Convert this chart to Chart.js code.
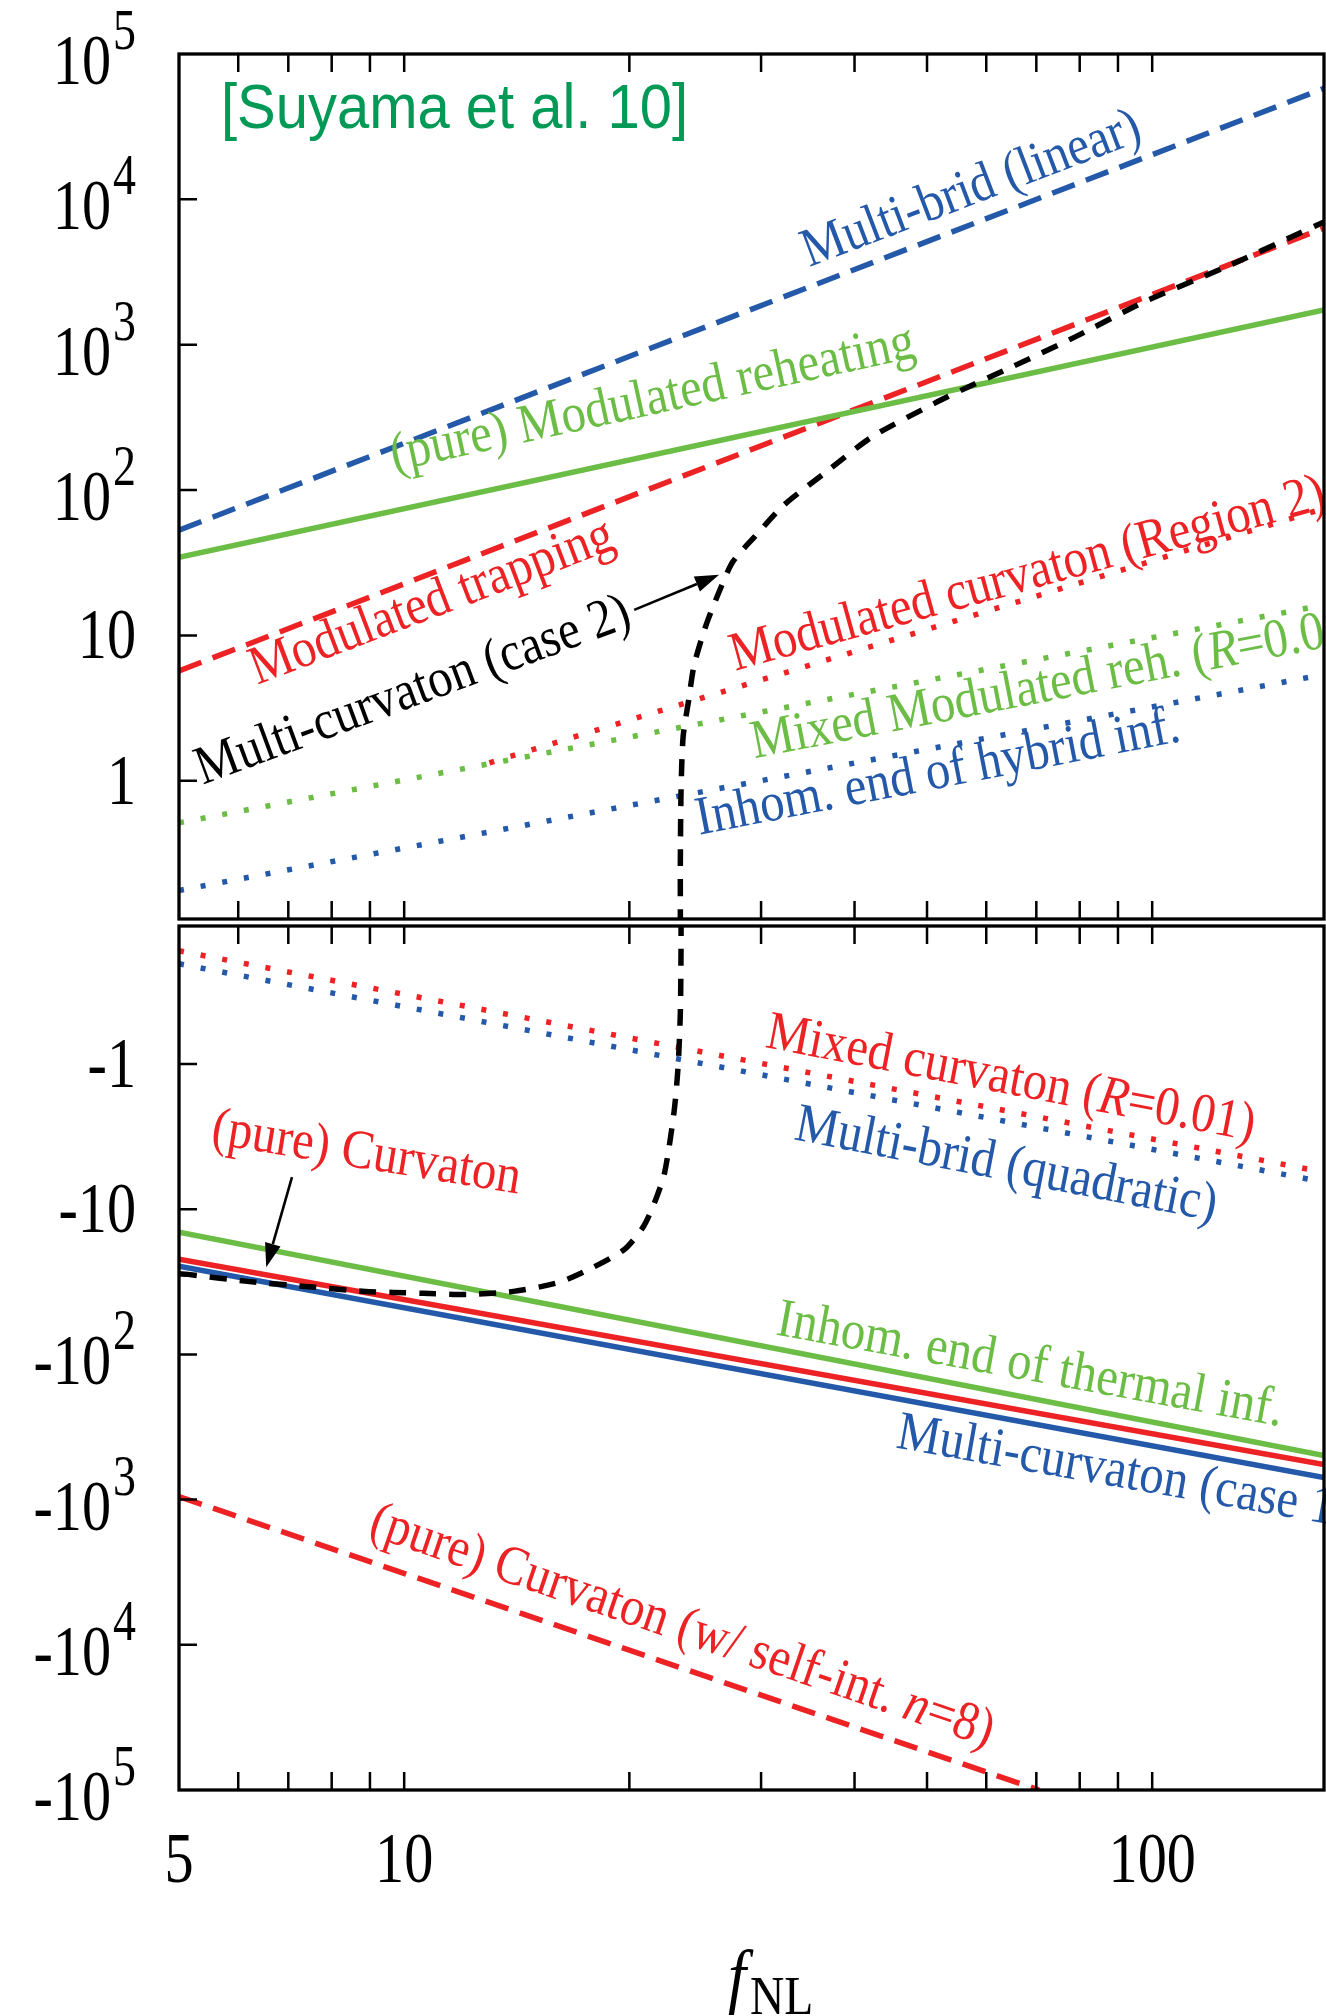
<!DOCTYPE html>
<html>
<head>
<meta charset="utf-8">
<title>tau_NL vs f_NL</title>
<script src="https://cdn.jsdelivr.net/npm/chart.js"></script>
<style>
  html, body { margin: 0; padding: 0; background: #fff; }
  #wrap { position: relative; width: 1326px; height: 2016px; overflow: hidden; }
  #topChart { position: absolute; left: 0; top: 0; }
  #bottomChart { position: absolute; left: 0; top: 922px; }
</style>
</head>
<body>
<div id="wrap">
  <canvas id="topChart" width="1326" height="923"></canvas>
  <canvas id="bottomChart" width="1326" height="1094"></canvas>
</div>
<script>
// --- Axis ranges and ticks ---

const X_MIN = 5;
const X_MAX = 169.7;
const Y_MIN = 0.112; // |tau_NL| where the two panels meet
const Y_MAX = 1e5;

const xTicks = [6, 7, 8, 9, 10, 20, 30, 40, 50, 60, 70, 80, 90, 100];
const xTickLabels = ["5", "10", "100"];
const xTickLabelValues = [5, 10, 100];

const yTopTicks = [1e5, 1e4, 1e3, 100, 10, 1];
const yTopTickLabels = ["10^5", "10^4", "10^3", "10^2", "10", "1"];
const yBottomTicks = [-1, -10, -100, -1e3, -1e4, -1e5];
const yBottomTickLabels = ["-1", "-10", "-10^2", "-10^3", "-10^4", "-10^5"];

// --- Upper panel (tau_NL > 0) ---

const multibridLinearX = [5, 169.7];
const multibridLinearY = [53, 58000];

const modReheatingX = [5, 169.7];
const modReheatingY = [34.5, 1735];

const modTrappingX = [5, 169.7];
const modTrappingY = [5.7, 6350];

const modCurvatonX = [13.0, 169.7];
const modCurvatonY = [1.33, 74.7];

const mixedModRehX = [5, 169.7];
const mixedModRehY = [0.514, 16.2];

const hybridEndX = [5, 169.7];
const hybridEndY = [0.176, 5.39];

const multiCurv2TopX = [23.4, 23.4, 23.45, 23.6, 24.0, 24.4, 25.3, 26.4, 27.5, 29.4, 32.2, 36.5, 42.2, 51.3, 55.7, 64.9, 78.9, 96.9, 125.5, 157.6, 169.7];
const multiCurv2TopY = [0.1, 0.277, 0.85, 2.01, 3.55, 6.18, 11.6, 20.3, 32.1, 47.6, 79, 131, 232, 398, 489, 703, 1132, 1938, 3430, 5870, 6990];

// --- Lower panel (tau_NL < 0) ---

const mixedCurvatonX = [5, 169.7];
const mixedCurvatonY = [-0.166, -5.56];

const multibridQuadX = [5, 169.7];
const multibridQuadY = [-0.204, -6.5];

const thermalEndX = [5, 169.7];
const thermalEndY = [-14.4, -497];

const pureCurvatonX = [5, 169.7];
const pureCurvatonY = [-22.1, -574];

const multiCurv1X = [5, 169.7];
const multiCurv1Y = [-24.7, -705];

const selfIntX = [5, 70.6];
const selfIntY = [-953, -1e5];

const multiCurv2BottomX = [23.45, 23.45, 23.4, 23.24, 22.95, 22.3, 21.7, 20.9, 19.7, 17.9, 16.1, 14.0, 12.2, 10.6, 9.66, 8.87, 7.37, 6.17, 5.14, 5];
const multiCurv2BottomY = [-0.1, -0.153, -0.44, -1.03, -2.14, -5.56, -8.53, -13.1, -18.9, -25.1, -31.9, -36.8, -38.6, -37.9, -37.4, -36.8, -34.0, -31.4, -28.1, -27.8];

// --- Styles ---

const BLUE = "#2459a9";
const RED = "#ed2224";
const GREEN = "#6cbd45";
const BLACK = "#000000";
const TITLE_GREEN = "#009955";

const SERIF = "'Liberation Serif', 'Times New Roman', serif";
const TICK_FONT = "71px " + SERIF;
const SUP_FONT = "56px " + SERIF;
const TICK_SQUEEZE = 0.82; // the original glyphs are a bit narrow
const LABEL_SIZE = 55;
const LABEL_SQUEEZE = 0.885;
const TICK_LEN = 18;

const STYLES = {
  solid: { width: 5.5, dash: [] },
  dashed: { width: 5.5, dash: [24, 12] },
  dotted: { width: 5.5, dash: [5, 17] },
  blackDashed: { width: 5.5, dash: [17, 13] },
};

// Curve labels: anchor is the left end of the baseline, in data coordinates.
// Text between * is italic.
const topLabels = [
  { text: "Multi-brid (linear)", x: 34.8, y: 3428, angle: -20.8, color: BLUE },
  { text: "(pure) Modulated reheating", x: 9.7, y: 135.5, angle: -12.3, color: GREEN },
  { text: "Modulated trapping", x: 6.36, y: 4.57, angle: -20.8, color: RED },
  { text: "Multi-curvaton (case 2)", x: 5.38, y: 0.939, angle: -20.3, color: BLACK },
  { text: "Modulated curvaton (Region 2)", x: 27.7, y: 5.71, angle: -15.4, color: RED },
  { text: "Mixed Modulated reh. (*R*=0.01)", x: 29.4, y: 1.43, angle: -11, color: GREEN },
  { text: "Inhom. end of hybrid inf.", x: 24.8, y: 0.425, angle: -11, color: BLUE },
];

const bottomLabels = [
  { text: "Mixed curvaton (*R*=0.01)", x: 30.3, y: -0.763, angle: 10.9, color: RED },
  { text: "Multi-brid (quadratic)", x: 33.1, y: -3.29, angle: 11, color: BLUE },
  { text: "(pure) Curvaton", x: 5.5, y: -3.51, angle: 9.3, color: RED },
  { text: "Inhom. end of thermal inf.", x: 31.3, y: -72.8, angle: 10.3, color: GREEN },
  { text: "Multi-curvaton (case 1)", x: 45.3, y: -438, angle: 10, color: BLUE },
  { text: "(pure) Curvaton (w/ self-int. *n*=8)", x: 8.92, y: -1742, angle: 18.9, color: RED },
];

const topArrows = [{ from: [20.3, 15.0], to: [26.36, 26.1] }];
const bottomArrows = [{ from: [7.08, -6.0], to: [6.54, -25.1] }];

// --- Helpers ---

function series(xs, ys, color, style, tension) {
  const s = STYLES[style];
  return {
    data: xs.map((x, i) => ({ x: x, y: Math.abs(ys[i]) })),
    borderColor: color,
    borderWidth: s.width,
    borderDash: s.dash,
    borderCapStyle: "butt",
    borderJoinStyle: "round",
    pointRadius: 0,
    fill: false,
    tension: tension || 0,
  };
}

// draws text horizontally squeezed, left end of baseline at (x, y)
function squeezedText(ctx, text, x, y, squeeze) {
  ctx.save();
  ctx.translate(x, y);
  ctx.scale(squeeze, 1);
  ctx.fillText(text, 0, 0);
  ctx.restore();
  return ctx.measureText(text).width * squeeze;
}

function drawRichText(ctx, text) {
  let cx = 0;
  text.split("*").forEach((part, i) => {
    if (!part) return;
    ctx.font = (i % 2 ? "italic " : "") + LABEL_SIZE + "px " + SERIF;
    cx += squeezedText(ctx, part, cx, 0, LABEL_SQUEEZE);
  });
}

function drawPowerLabel(ctx, text, xRight, yTick) {
  const parts = text.split("^");
  ctx.fillStyle = "#000";
  ctx.textAlign = "left";
  ctx.textBaseline = "alphabetic";
  if (parts.length === 2) {
    ctx.font = SUP_FONT;
    const wSup = ctx.measureText(parts[1]).width * TICK_SQUEEZE;
    ctx.font = TICK_FONT;
    const wBase = ctx.measureText(parts[0]).width * TICK_SQUEEZE;
    const baseY = yTick + 30;
    squeezedText(ctx, parts[0], xRight - wSup - wBase - 2, baseY, TICK_SQUEEZE);
    ctx.font = SUP_FONT;
    squeezedText(ctx, parts[1], xRight - wSup, baseY - 35, TICK_SQUEEZE);
  } else {
    ctx.font = TICK_FONT;
    const w = ctx.measureText(text).width * TICK_SQUEEZE;
    squeezedText(ctx, text, xRight - w, yTick + 23, TICK_SQUEEZE);
  }
}

function drawArrow(ctx, x1, y1, x2, y2) {
  const ang = Math.atan2(y2 - y1, x2 - x1);
  const head = 24;
  const half = 8;
  const bx = x2 - head * Math.cos(ang);
  const by = y2 - head * Math.sin(ang);
  ctx.strokeStyle = "#000";
  ctx.fillStyle = "#000";
  ctx.lineWidth = 2.6;
  ctx.setLineDash([]);
  ctx.beginPath();
  ctx.moveTo(x1, y1);
  ctx.lineTo(bx, by);
  ctx.stroke();
  ctx.beginPath();
  ctx.moveTo(x2, y2);
  ctx.lineTo(bx - half * Math.sin(ang), by + half * Math.cos(ang));
  ctx.lineTo(bx + half * Math.sin(ang), by - half * Math.cos(ang));
  ctx.closePath();
  ctx.fill();
}

function panelPlugin(cfg) {
  return {
    id: "panel_" + cfg.name,
    afterDatasetsDraw(chart) {
      const { ctx, chartArea: a } = chart;
      const xs = chart.scales.x;
      const ys = chart.scales.y;
      const px = (v) => xs.getPixelForValue(v);
      const py = (v) => ys.getPixelForValue(Math.abs(v));

      ctx.save();

      // curve labels
      cfg.labels.forEach((l) => {
        ctx.save();
        ctx.translate(px(l.x), py(l.y));
        ctx.rotate((l.angle * Math.PI) / 180);
        ctx.fillStyle = l.color;
        ctx.textAlign = "left";
        ctx.textBaseline = "alphabetic";
        drawRichText(ctx, l.text);
        ctx.restore();
      });

      // arrows
      cfg.arrows.forEach((ar) => {
        drawArrow(ctx, px(ar.from[0]), py(ar.from[1]), px(ar.to[0]), py(ar.to[1]));
      });

      // frame
      ctx.setLineDash([]);
      ctx.strokeStyle = "#000";
      ctx.lineWidth = 3.3;
      ctx.strokeRect(a.left, a.top, a.right - a.left, a.bottom - a.top);

      // tick marks (inward)
      ctx.lineWidth = 2.5;
      ctx.beginPath();
      xTicks.forEach((v) => {
        const x = px(v);
        ctx.moveTo(x, a.top);
        ctx.lineTo(x, a.top + TICK_LEN);
        ctx.moveTo(x, a.bottom);
        ctx.lineTo(x, a.bottom - TICK_LEN);
      });
      cfg.yTicks.forEach((v) => {
        const y = py(v);
        if (y > a.top + 2 && y < a.bottom - 2) {
          ctx.moveTo(a.left, y);
          ctx.lineTo(a.left + TICK_LEN, y);
        }
      });
      ctx.stroke();

      // y tick labels
      cfg.yTicks.forEach((v, i) => drawPowerLabel(ctx, cfg.yTickLabels[i], 136, py(v)));

      if (cfg.extra) cfg.extra(ctx, a, px, py);
      ctx.restore();
    },
  };
}

function makeChart(canvasId, datasets, reverse, padding, plugin) {
  return new Chart(document.getElementById(canvasId), {
    type: "line",
    data: { datasets: datasets },
    options: {
      responsive: false,
      animation: false,
      devicePixelRatio: 1,
      layout: { padding: padding },
      plugins: { legend: { display: false }, tooltip: { enabled: false } },
      scales: {
        x: { type: "logarithmic", min: X_MIN, max: X_MAX, display: false },
        y: { type: "logarithmic", min: Y_MIN, max: Y_MAX, reverse: reverse, display: false },
      },
    },
    plugins: [plugin],
  });
}

// --- Upper panel ---

makeChart(
  "topChart",
  [
    series(multiCurv2TopX, multiCurv2TopY, BLACK, "blackDashed", 0.25),
    series(multibridLinearX, multibridLinearY, BLUE, "dashed"),
    series(modReheatingX, modReheatingY, GREEN, "solid"),
    series(modTrappingX, modTrappingY, RED, "dashed"),
    series(modCurvatonX, modCurvatonY, RED, "dotted"),
    series(mixedModRehX, mixedModRehY, GREEN, "dotted"),
    series(hybridEndX, hybridEndY, BLUE, "dotted"),
  ],
  false,
  { left: 179, right: 2, top: 54, bottom: 4 },
  panelPlugin({
    name: "top",
    labels: topLabels,
    arrows: topArrows,
    yTicks: yTopTicks,
    yTickLabels: yTopTickLabels,
    extra(ctx) {
      ctx.fillStyle = TITLE_GREEN;
      ctx.font = "63px 'Liberation Sans', Arial, sans-serif";
      ctx.textAlign = "left";
      ctx.textBaseline = "alphabetic";
      ctx.fillText("[Suyama et al. 10]", 221, 128, 467);
    },
  })
);

// --- Lower panel ---

makeChart(
  "bottomChart",
  [
    series(multiCurv2BottomX, multiCurv2BottomY, BLACK, "blackDashed", 0.25),
    series(mixedCurvatonX, mixedCurvatonY, RED, "dotted"),
    series(multibridQuadX, multibridQuadY, BLUE, "dotted"),
    series(thermalEndX, thermalEndY, GREEN, "solid"),
    series(pureCurvatonX, pureCurvatonY, RED, "solid"),
    series(multiCurv1X, multiCurv1Y, BLUE, "solid"),
    series(selfIntX, selfIntY, RED, "dashed"),
  ],
  true,
  { left: 179, right: 2, top: 4, bottom: 226 },
  panelPlugin({
    name: "bottom",
    labels: bottomLabels,
    arrows: bottomArrows,
    yTicks: yBottomTicks,
    yTickLabels: yBottomTickLabels,
    extra(ctx, a, px) {
      ctx.fillStyle = "#000";
      ctx.font = TICK_FONT;
      ctx.textAlign = "left";
      ctx.textBaseline = "alphabetic";
      xTickLabelValues.forEach((v, i) => {
        const w = ctx.measureText(xTickLabels[i]).width * TICK_SQUEEZE;
        squeezedText(ctx, xTickLabels[i], px(v) - w / 2, a.bottom + 92, TICK_SQUEEZE);
      });

      // axis title f_NL
      ctx.font = "italic 72px " + SERIF;
      const wf = squeezedText(ctx, "f", 728, 1078, 0.9);
      ctx.font = "54px " + SERIF;
      squeezedText(ctx, "NL", 728 + wf + 4, 1092, 0.88);
    },
  })
);
</script>
</body>
</html>
